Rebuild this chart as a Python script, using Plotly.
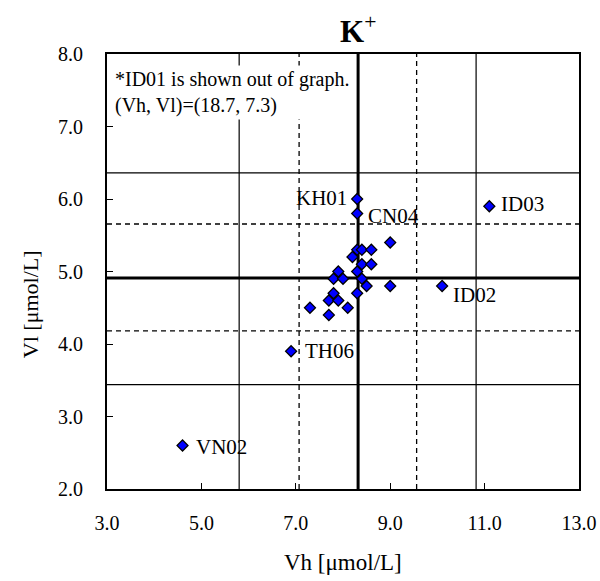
import plotly.graph_objects as go

# ---- data ----
vh = [8.3, 8.3, 9.0, 8.3, 8.4, 8.6, 8.2, 8.4, 8.6, 8.3, 7.9, 7.8, 8.0, 8.4,
      8.5, 9.0, 8.3, 7.8, 7.7, 7.9, 7.3, 8.1, 7.7, 10.1, 11.1, 6.9, 4.6]
vl = [6.0, 5.8, 5.4, 5.3, 5.3, 5.3, 5.2, 5.1, 5.1, 5.0, 5.0, 4.9, 4.9, 4.9,
      4.8, 4.8, 4.7, 4.7, 4.6, 4.6, 4.5, 4.5, 4.4, 4.8, 5.9, 3.9, 2.6]
labels = ["KH01", "CN04", "", "", "", "", "", "", "", "", "", "", "", "",
          "", "", "", "", "", "", "", "", "", "ID02", "ID03", "TH06", "VN02"]

# reference lines: median, +/- dashed band, +/- solid band
vh_median = 8.32
vh_dashed = [7.07, 9.56]
vh_solid = [5.80, 10.82]
vl_median = 4.91
vl_dashed = [4.18, 5.655]
vl_solid = [3.44, 6.36]

x_ticks = [3.0, 5.0, 7.0, 9.0, 11.0, 13.0]
y_ticks = [2.0, 3.0, 4.0, 5.0, 6.0, 7.0, 8.0]

title_text = "<b>K</b><sup>+</sup>"
x_title = "Vh [μmol/L]"
y_title = "Vl [μmol/L]"
note_text = "*ID01 is shown out of graph.<br>(Vh, Vl)=(18.7, 7.3)"

# label placement style (anchor side, pixel offsets)
label_style = {
    "KH01": ("right", -8, 1),
    "CN04": ("left", 9, -2),
    "ID03": ("left", 10, 2),
    "ID02": ("left", 9, -9),
    "TH06": ("left", 12, 0),
    "VN02": ("left", 11, -1),
}

FONT = "Liberation Serif"

fig = go.Figure()

for v in vh_solid:
    fig.add_vline(x=v, line=dict(color="black", width=1.2), layer="below")
for v in vl_solid:
    fig.add_hline(y=v, line=dict(color="black", width=1.2), layer="below")
for v in vh_dashed:
    fig.add_vline(x=v, line=dict(color="black", width=1.3, dash="5px,4px"), layer="below")
for v in vl_dashed:
    fig.add_hline(y=v, line=dict(color="black", width=1.3, dash="5px,4px"), layer="below")
fig.add_vline(x=vh_median, line=dict(color="black", width=3), layer="below")
fig.add_hline(y=vl_median, line=dict(color="black", width=3), layer="below")

fig.add_trace(go.Scatter(
    x=vh, y=vl, mode="markers",
    marker=dict(symbol="diamond", size=8.5, color="#0000FF",
                line=dict(color="black", width=1.2)),
    cliponaxis=False, showlegend=False,
))

for xv, yv, lab in zip(vh, vl, labels):
    if not lab:
        continue
    side, dx, dy = label_style[lab]
    fig.add_annotation(
        x=xv, y=yv, xref="x", yref="y", text=lab, showarrow=False,
        xanchor=side, yanchor="middle", xshift=dx, yshift=dy,
        font=dict(family=FONT, size=21, color="black"),
    )

# note box (white background hides the reference lines behind it)
fig.add_annotation(
    xref="paper", yref="paper", x=0.010, y=0.975,
    xanchor="left", yanchor="top", align="left",
    text=note_text, showarrow=False, bgcolor="white", borderpad=2,
    font=dict(family=FONT, size=20, color="black"),
)
# chart title
fig.add_annotation(
    xref="paper", yref="paper", x=0.532, y=1.057,
    xanchor="center", yanchor="middle", text=title_text, showarrow=False,
    font=dict(family=FONT, size=31, color="black"),
)
# axis titles
fig.add_annotation(
    xref="paper", yref="paper", x=0.5, y=-0.170,
    xanchor="center", yanchor="middle", text=x_title, showarrow=False,
    font=dict(family=FONT, size=23, color="black"),
)
fig.add_annotation(
    xref="paper", yref="paper", x=-0.163, y=0.425, textangle=-90,
    xanchor="center", yanchor="middle", text=y_title, showarrow=False,
    font=dict(family=FONT, size=22, color="black"),
)

fig.update_layout(
    width=600, height=581,
    margin=dict(l=107, r=21, t=54, b=92),
    paper_bgcolor="white", plot_bgcolor="white",
    font=dict(family=FONT, size=20, color="black"),
    showlegend=False,
)
fig.update_xaxes(
    range=[3, 13], tickvals=x_ticks, ticktext=[f"{t:.1f}" for t in x_ticks],
    ticks="inside", ticklen=6, tickwidth=1, tickcolor="black",
    showline=True, linewidth=2, linecolor="black", mirror=True,
    showgrid=False, zeroline=False, ticklabelstandoff=15, automargin=False,
    tickfont=dict(family=FONT, size=20),
)
fig.update_yaxes(
    range=[2, 8], tickvals=y_ticks, ticktext=[f"{t:.1f}" for t in y_ticks],
    ticks="inside", ticklen=6, tickwidth=1, tickcolor="black",
    showline=True, linewidth=2, linecolor="black", mirror=True,
    showgrid=False, zeroline=False, ticklabelstandoff=18, automargin=False,
    tickfont=dict(family=FONT, size=20),
)

fig.write_html("out.html")
